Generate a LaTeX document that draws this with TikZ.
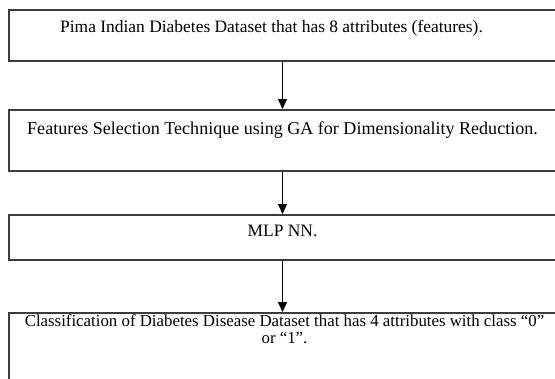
\documentclass[tikz,border=0pt]{standalone}
\usepackage{fontspec}
\setmainfont{Liberation Serif}
\usetikzlibrary{calc,arrows.meta}
\definecolor{edge}{HTML}{3C3C3C}
\definecolor{ink}{HTML}{000000}
\tikzset{
  stage/.style={draw=edge, line width=2bp, rectangle, minimum width=547bp, inner sep=0pt},
  flow/.style={draw=ink, line width=1bp, -{Triangle[length=10bp,width=9bp]}},
  lab/.style={text=ink, font=\fontsize{17.5}{17}\selectfont, anchor=base, inner sep=0pt},
}

\begin{document}
\begin{tikzpicture}[x=1bp,y=-1bp]
  \useasboundingbox (0,0) rectangle (555,378);

  % the four stages, top to bottom
  \node[stage, minimum height=51bp] (pima) at (282.5,35.5) {};
  \node[stage, minimum height=61bp] (feat) at (282.5,140.5) {};
  \node[stage, minimum height=45bp] (mlp)  at (282.5,237.5) {};
  \node[stage, minimum height=87bp] (cls)  at (282.5,356.5) {};

  % texts sit near the top of each box
  \node[lab] (pimat) at ($(pima.north)+(-11,23.6)$) {Pima Indian Diabetes Dataset that has 8 attributes (features).};
  \node[lab, font=\fontsize{18.1}{17}\selectfont] (featt) at ($(feat.north)+(0,25)$) {Features Selection Technique using GA for Dimensionality Reduction.};
  \node[lab] (mlpt)  at ($(mlp.north)+(0,22)$) {MLP NN.};
  % base of a two-line node is the last line
  \node[lab, align=center, font=\fontsize{16.9}{17}\selectfont] (clst) at ($(cls.north)+(2,31)$) {Classification of Diabetes Disease Dataset that has 4 attributes with class ``0''\\ or ``1''.};

  \draw[flow] (pima) -- (feat);
  \draw[flow] (feat) -- (mlp);
  \draw[flow] (mlp) -- (cls);
\end{tikzpicture}
\end{document}
